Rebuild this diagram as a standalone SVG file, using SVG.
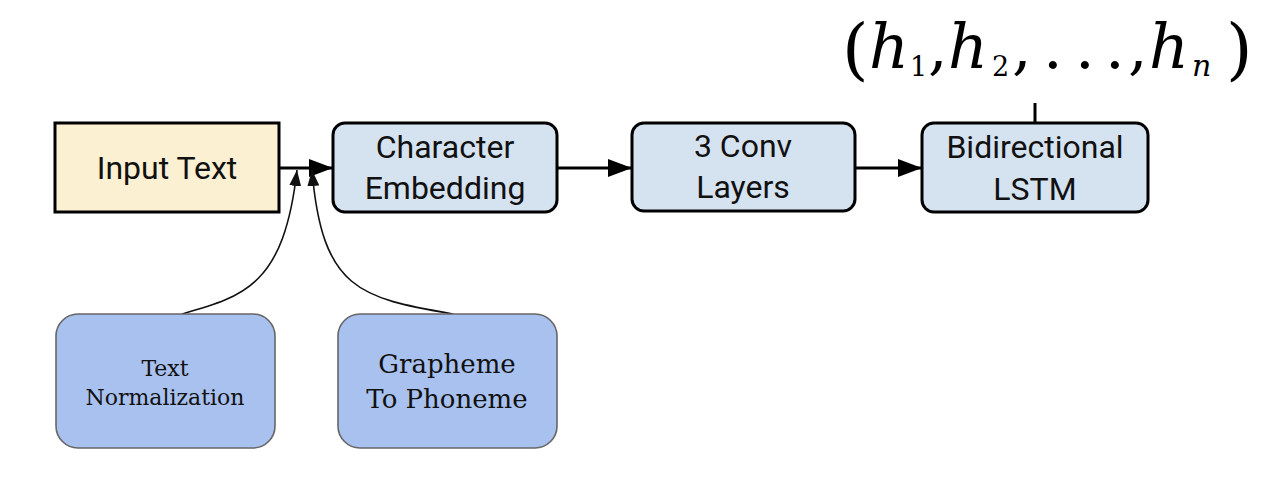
<svg xmlns="http://www.w3.org/2000/svg" width="1284" height="478" viewBox="0 0 1284 478">
<style>
.bg{fill:#ffffff}
.main{fill:#d5e2f0;stroke:#000;stroke-width:3}
.inp{fill:#fbf0d1;stroke:#000;stroke-width:3}
.pre{fill:#a9c1ef;stroke:#666;stroke-width:1.6}
.lbl{font-family:Roboto,"Liberation Sans",sans-serif;font-size:32px;fill:#111;text-anchor:middle}
.slbl{font-family:"DejaVu Serif","Liberation Serif",serif;fill:#111;text-anchor:middle}
.conn{fill:none;stroke:#000;stroke-width:3}
.thin{fill:none;stroke:#111;stroke-width:1.6}
.math{font-family:"DejaVu Serif","Liberation Serif",serif;fill:#000}
</style>
<defs>
<marker id="ah" markerUnits="userSpaceOnUse" markerWidth="24" markerHeight="18" refX="24" refY="9" orient="auto"><path d="M0,0 L24,9 L0,18 Z" fill="#000"/></marker>
<marker id="ahs" markerUnits="userSpaceOnUse" markerWidth="16" markerHeight="12" refX="16" refY="6" orient="auto"><path d="M0,0 L16,6 L0,12 Z" fill="#111"/></marker>
</defs>
<rect class="bg" x="0" y="0" width="1284" height="478"/>
<g id="connectors">
<path class="conn" d="M279,168 L333,168" marker-end="url(#ah)"/>
<path class="conn" d="M557,168 L632,168" marker-end="url(#ah)"/>
<path class="conn" d="M855,168 L922,168" marker-end="url(#ah)"/>
<path class="conn" d="M1035,103 L1035,123" stroke-width="2.5"/>
<path class="thin" d="M182,314 C245,296 284,285 297,170" marker-end="url(#ahs)"/>
<path class="thin" d="M453,314 C360,298 322,290 312,170" marker-end="url(#ahs)"/>
</g>
<g id="input-text">
<rect class="inp" x="55" y="123" width="224" height="89"/>
<text class="lbl" x="167" y="179">Input Text</text>
</g>
<g id="char-embedding">
<rect class="main" x="333" y="123" width="224" height="89" rx="12"/>
<text class="lbl" x="445" y="158">Character</text>
<text class="lbl" x="445" y="199">Embedding</text>
</g>
<g id="conv-layers">
<rect class="main" x="632" y="123" width="223" height="88" rx="12"/>
<text class="lbl" x="743" y="157">3 Conv</text>
<text class="lbl" x="743" y="198">Layers</text>
</g>
<g id="bilstm">
<rect class="main" x="922" y="123" width="226" height="89" rx="12"/>
<text class="lbl" x="1035" y="158">Bidirectional</text>
<text class="lbl" x="1035" y="200">LSTM</text>
</g>
<g id="outputs">
<text class="math" font-size="62"><tspan x="842" y="72" font-size="68">(</tspan><tspan x="869" y="68" font-style="italic">h</tspan><tspan x="910" y="76" font-size="27">1</tspan><tspan x="928" y="68">,</tspan><tspan x="948" y="68" font-style="italic">h</tspan><tspan x="992" y="76" font-size="27">2</tspan><tspan x="1012" y="68">,</tspan><tspan x="1043" y="68">.</tspan><tspan x="1075" y="68">.</tspan><tspan x="1105" y="68">.</tspan><tspan x="1128" y="68">,</tspan><tspan x="1149" y="68" font-style="italic">h</tspan><tspan x="1192" y="76" font-size="30" font-style="italic">n</tspan><tspan x="1226" y="72" font-size="68">)</tspan></text>
</g>
<g id="text-normalization">
<rect class="pre" x="56" y="314" width="219" height="134" rx="22"/>
<text class="slbl" x="165" y="376" font-size="22">Text</text>
<text class="slbl" x="165" y="405" font-size="22">Normalization</text>
</g>
<g id="g2p">
<rect class="pre" x="338" y="314" width="219" height="134" rx="22"/>
<text class="slbl" x="447" y="373" font-size="26">Grapheme</text>
<text class="slbl" x="447" y="408" font-size="26">To Phoneme</text>
</g>
</svg>
